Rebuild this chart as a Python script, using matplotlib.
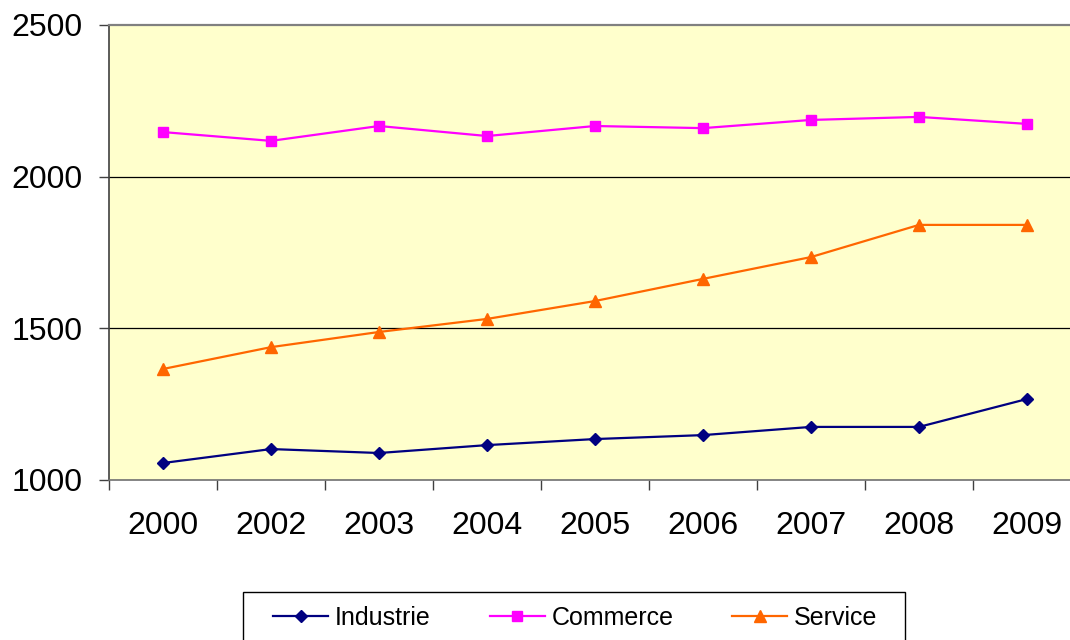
import matplotlib
matplotlib.use("Agg")
import matplotlib.pyplot as plt
from matplotlib.patches import Rectangle

plt.rcParams["font.family"] = ["Liberation Sans", "DejaVu Sans"]

years = ["2000", "2002", "2003", "2004", "2005", "2006", "2007", "2008", "2009"]
industrie = [1056, 1102, 1089, 1115, 1135, 1148, 1175, 1175, 1267]
commerce = [2147, 2118, 2167, 2134, 2167, 2160, 2187, 2197, 2174]
service = [1366, 1438, 1488, 1531, 1590, 1663, 1735, 1841, 1841]

fig = plt.figure(figsize=(10.7, 6.4), dpi=100)
fig.patch.set_facecolor("white")
ax = fig.add_axes([109 / 1070, 1 - 480 / 640, 972 / 1070, 455 / 640])
ax.set_facecolor("#FFFFCC")

x = list(range(len(years)))
ax.plot(x, industrie, color="#000080", lw=1.6, marker="D", ms=6.5, label="Industrie", zorder=4)
ax.plot(x, commerce, color="#FF00FF", lw=1.6, marker="s", ms=7.5, label="Commerce", zorder=4)
ax.plot(x, service, color="#FF6600", lw=1.6, marker="^", ms=9, label="Service", zorder=4)

ax.set_xlim(-0.5, len(years) - 0.5)
ax.set_ylim(1000, 2500)
ax.set_yticks([1000, 1500, 2000, 2500])
ax.set_xticks(x)
ax.set_xticklabels(years)
ax.set_xticks([i + 0.5 for i in range(-1, len(years))], minor=True)

ax.tick_params(axis="x", which="major", length=0, pad=22, labelsize=23)
ax.tick_params(axis="x", which="minor", length=7, width=1, color="#404040", direction="out")
ax.tick_params(axis="y", length=7, width=1, color="#404040", pad=12, labelsize=23)

for yv in [1500, 2000]:
    ax.axhline(yv, color="black", lw=0.9, zorder=1)

ax.spines["top"].set_color("#808080")
ax.spines["top"].set_linewidth(1.6)
ax.spines["right"].set_visible(False)
ax.spines["left"].set_color("#404040")
ax.spines["left"].set_linewidth(1.2)
ax.spines["bottom"].set_color("#707070")
ax.spines["bottom"].set_linewidth(1.2)

# legend entries without frame, frame drawn separately (box runs off the bottom)
fig.legend(loc="upper left", bbox_to_anchor=(273 / 1070, 1 - 606 / 640),
           ncol=3, fontsize=18, frameon=False, handlelength=2.2,
           handletextpad=0.28, columnspacing=2.35, borderpad=0, borderaxespad=0)
fig.add_artist(Rectangle((243 / 1070, -0.02), (905 - 243) / 1070, 1 - 592 / 640 + 0.02,
                         transform=fig.transFigure, fill=False, edgecolor="black", lw=1.0))

fig.savefig("out.png", dpi=100, facecolor="white")
